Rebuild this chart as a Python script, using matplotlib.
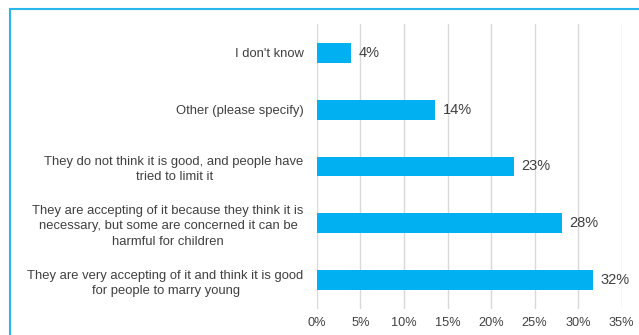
import matplotlib
matplotlib.use("Agg")
import matplotlib.pyplot as plt
from matplotlib.patches import Rectangle

categories = [
    "I don't know",
    "Other (please specify)",
    "They do not think it is good, and people have\ntried to limit it",
    "They are accepting of it because they think it is\nnecessary, but some are concerned it can be\nharmful for children",
    "They are very accepting of it and think it is good\nfor people to marry young",
]
values = [3.9, 13.6, 22.6, 28.1, 31.7]
xticks = [0, 5, 10, 15, 20, 25, 30, 35]

plt.rcParams["font.family"] = ["Liberation Sans", "DejaVu Sans"]
text_color = "#404040"
bar_color = "#00B0F0"

fig = plt.figure(figsize=(6.39, 3.35), dpi=100)
ax = fig.add_axes([0.496, 0.079, 0.477, 0.848])

y = list(range(len(categories)))
ax.barh(y, values, height=0.35, color=bar_color, zorder=3)
for yi, v in zip(y, values):
    ax.text(v + 0.9, yi, f"{v:.0f}%", va="center", ha="left",
            fontsize=10.5, color=text_color)

ax.set_xlim(0, 35)
ax.set_ylim(len(categories) - 0.5, -0.5)
ax.set_xticks(xticks)
ax.set_xticklabels([f"{t}%" for t in xticks], fontsize=9.2, color=text_color)
ax.set_yticks(y)
ax.set_yticklabels(categories, fontsize=9.4, color=text_color,
                   multialignment="center", linespacing=1.35)
ax.tick_params(axis="both", length=0)
ax.tick_params(axis="y", pad=9.5)
ax.tick_params(axis="x", pad=6)
ax.grid(axis="x", color="#d9d9d9", linewidth=1, zorder=0)
for s in ax.spines.values():
    s.set_visible(False)

# light blue frame around the chart area
fig.patches.append(Rectangle((10 / 639, -0.1), 1.2, 1 - 9 / 335 + 0.1,
                             transform=fig.transFigure, fill=False,
                             edgecolor="#29B6EA", linewidth=1.5))

fig.savefig("out.png", dpi=100)
